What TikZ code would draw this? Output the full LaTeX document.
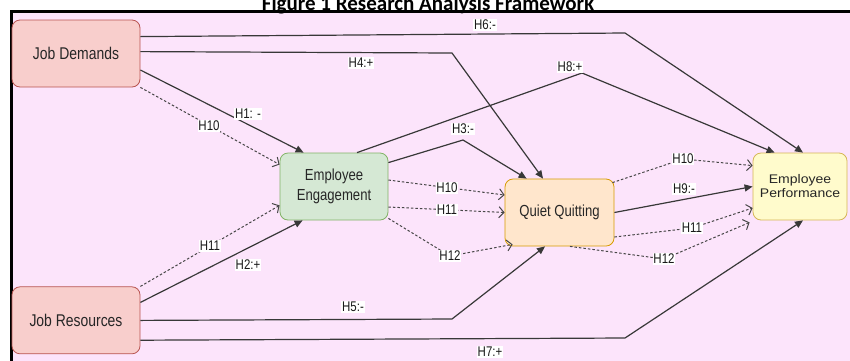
\documentclass[tikz,border=0pt]{standalone}
\usepackage{fontspec}
\setmainfont{Liberation Sans}
\newfontfamily\narrowfont[FakeStretch=0.82]{Liberation Sans}
\newfontfamily\widefont[FakeStretch=1.12]{Liberation Sans}
\newfontfamily\titlefont{Carlito}
\usepackage{xcolor}
\usepackage{tikz}
\usetikzlibrary{arrows.meta, positioning}

\definecolor{bgpink}{HTML}{FCE4FB}
\definecolor{redfill}{HTML}{F8CECC}
\definecolor{reddraw}{HTML}{B85450}
\definecolor{greenfill}{HTML}{D5E8D4}
\definecolor{greendraw}{HTML}{82B366}
\definecolor{orangefill}{HTML}{FFE6CC}
\definecolor{orangedraw}{HTML}{D79B00}
\definecolor{yellowfill}{HTML}{FFFBCC}
\definecolor{yellowdraw}{HTML}{D6B656}

\begin{document}
\begin{tikzpicture}[
    x=1pt, y=-1pt,
    box/.style={rectangle, rounded corners=8pt, thick, minimum height=67pt, align=center, text=black!85},
    lbl/.style={fill=white, inner sep=0.8pt, text=black!90, font=\narrowfont\fontsize{14}{15}\selectfont},
    link/.style={draw=black!78, line width=1.2pt, -{Triangle[length=8pt,width=7pt]}},
    dlink/.style={draw=black!72, line width=1pt, dash pattern=on 2.5pt off 2pt, -{Straight Barb[length=5pt,width=11pt]}}
]
\useasboundingbox (0,0) rectangle (850,360);

% frame and title
\fill[bgpink] (11,11.5) rectangle (850,362);
\draw[line width=3pt] (11,362) -- (11,11.5) -- (852,11.5);
\node[anchor=base, font=\titlefont\bfseries\fontsize{21}{23}\selectfont] (title) at (428,10) {Figure 1 Research Analysis Framework};

% constructs
\node[box, minimum width=128pt, fill=redfill, draw=reddraw, font=\narrowfont\fontsize{17}{20}\selectfont] (jd) at (76,53.5) {Job Demands};
\node[box, minimum width=128pt, fill=redfill, draw=reddraw, font=\narrowfont\fontsize{17}{20}\selectfont, below=199pt of jd] (jr) {Job Resources};
\node[box, minimum width=108pt, fill=greenfill, draw=greendraw, font=\narrowfont\fontsize{16}{20}\selectfont] (ee) at (334,186.5) {Employee\\Engagement};
\node[box, minimum width=109pt, fill=orangefill, draw=orangedraw, font=\narrowfont\fontsize{16}{20}\selectfont] (qq) at (559.5,212.5) {Quiet Quitting};
\node[box, minimum width=94pt, fill=yellowfill, draw=yellowdraw, font=\widefont\fontsize{12.5}{14}\selectfont] (ep) at (800,186.5) {Employee\\Performance};

% direct paths
\draw[link] ([yshift=-17pt]jd.north east) -- (625,33) -- ([xshift=3pt]ep.north);
\draw[link] ([yshift=-32pt]jd.north east) -- (452,53) -- ([xshift=-16.5pt]qq.north);
\draw[link] ([yshift=-16.5pt]jd.east) -- ([xshift=24pt]ee.north west);
\draw[link] ([xshift=23pt]ee.north) -- (582,73) -- ([xshift=22pt]ep.north west);
\draw[link] ([yshift=-10pt]ee.north east) -- (463,140) -- ([xshift=22pt]qq.north west);
\draw[link] ([yshift=-16pt]jr.north east) -- ([xshift=23pt]ee.south west);
\draw[link] ([yshift=-34pt]jr.north east) -- (452,319) -- ([xshift=-14.5pt]qq.south);
\draw[link] ([yshift=14pt]jr.south east) -- (625,338) -- ([xshift=3pt]ep.south);
\draw[link] (qq.east) -- (ep.west);

% mediated paths
\draw[dlink] (jd.south east) -- ([yshift=-12pt]ee.north west);
\draw[dlink] (jr.north east) -- ([yshift=15pt]ee.south west);
\draw[dlink] ([yshift=6.5pt]ee.east) -- ([yshift=17.5pt]qq.west);
\draw[dlink] ([yshift=-20.5pt]ee.east) -- (qq.west);
\draw[dlink] ([yshift=2pt]ee.south east) -- (450,256) -- ([xshift=8pt,yshift=2pt]qq.south west);
\draw[dlink] ([xshift=-2pt,yshift=-4pt]qq.north east) -- (683,159) -- ([yshift=-13pt]ep.north west);
\draw[dlink] ([yshift=-24.5pt]qq.east) -- (692,228) -- ([yshift=-21.5pt]ep.west);
\draw[dlink] ([xshift=10.5pt]qq.south) -- (664,259) -- ([xshift=-3pt,yshift=-2pt]ep.south west);

% hypothesis labels
\node[lbl] (h6) at (485,25) {H6:-};
\node[lbl] (h4) at (361,63) {H4:+};
\node[lbl] (h1) at (248,114) {H1: -};
\node[lbl] (h10a) at (209,126) {H10};
\node[lbl] (h8) at (570,67) {H8:+};
\node[lbl] (h3) at (463,129) {H3:-};
\node[lbl] (h2) at (248,265) {H2:+};
\node[lbl] (h11a) at (210,246) {H11};
\node[lbl] (h5) at (353,307) {H5:-};
\node[lbl] (h7) at (490,352) {H7:+};
\node[lbl] (h9) at (684,189) {H9:-};
\node[lbl] (h10b) at (447,188) {H10};
\node[lbl] (h11b) at (447,210) {H11};
\node[lbl] (h12b) at (450,256) {H12};
\node[lbl] (h10c) at (683,159) {H10};
\node[lbl] (h11c) at (692,228) {H11};
\node[lbl] (h12c) at (664,259) {H12};

\end{tikzpicture}
\end{document}
